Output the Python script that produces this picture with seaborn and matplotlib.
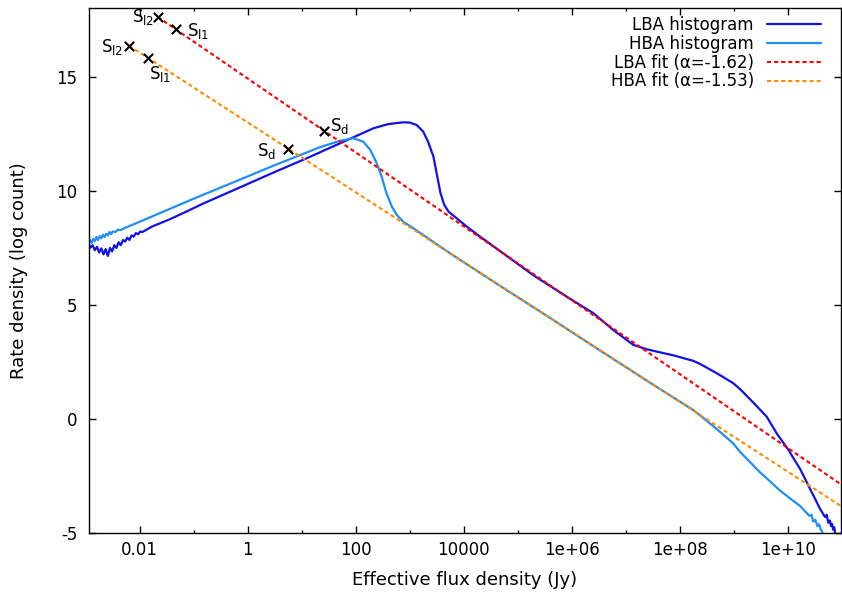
import numpy as np
import pandas as pd
import matplotlib
matplotlib.use("Agg")
import matplotlib.pyplot as plt
import seaborn as sns
from matplotlib.ticker import FixedLocator, FixedFormatter, NullFormatter

sns.set_theme(style="ticks")
plt.rcParams['font.family'] = ['DejaVu Sans']
plt.rcParams['mathtext.fontset'] = 'dejavusans'
plt.rcParams['axes.unicode_minus'] = False
plt.rcParams['text.color'] = 'black'
plt.rcParams['axes.labelcolor'] = 'black'

# --- data (x as log10 of flux density in Jy, y as log count) ---
lba_logS = [-2.95, -2.91, -2.87, -2.83, -2.79, -2.75, -2.71, -2.67, -2.63, -2.59,
            -2.55, -2.51, -2.47, -2.43, -2.39, -2.35, -2.31, -2.27, -2.23, -2.19,
            -2.15, -2.11, -2.07, -2.03, -1.99, -1.95,
            -1.77, -1.45, -1.14, -0.83, -0.14, 0.47, 1.09, 1.71, 2.33, 2.60, 2.88,
            3.00, 3.13, 3.25, 3.34, 3.44, 3.51, 3.57, 3.64, 3.72, 3.87, 4.06, 4.30,
            4.43, 5.29, 5.91, 6.40, 6.77, 7.14, 7.40, 7.64, 7.90, 8.25, 8.38, 8.69,
            8.99, 9.12, 9.35, 9.61, 9.80, 10.01, 10.23, 10.41, 10.60, 10.69,
            10.72, 10.75, 10.78, 10.80, 10.82, 10.84, 10.86, 10.88]
lba_rate = [7.70, 7.52, 7.62, 7.40, 7.55, 7.30, 7.48, 7.22, 7.45, 7.15,
            7.50, 7.35, 7.62, 7.50, 7.75, 7.62, 7.85, 7.78, 7.95, 7.85,
            8.05, 8.00, 8.15, 8.10, 8.22, 8.20,
            8.44, 8.75, 9.09, 9.44, 10.16, 10.80, 11.43, 12.09, 12.75, 12.93, 13.01,
            13.00, 12.89, 12.60, 12.16, 11.50, 10.63, 9.90, 9.39, 9.09, 8.80, 8.43, 8.00,
            7.78, 6.30, 5.36, 4.64, 3.90, 3.25, 3.05, 2.92, 2.78, 2.55, 2.41, 2.00,
            1.57, 1.30, 0.75, 0.10, -0.65, -1.35, -2.20, -3.05, -3.95, -4.30,
            -4.20, -4.55, -4.45, -4.70, -4.60, -4.85, -4.75, -5.05]

hba_logS = [-2.95, -2.92, -2.89, -2.86, -2.83, -2.80, -2.77, -2.74, -2.71, -2.68,
            -2.65, -2.62, -2.59, -2.56, -2.53, -2.50, -2.45, -2.40, -2.35, -2.30,
            -2.20, -2.00, -1.00, -0.14, 0.50, 1.00, 1.34, 1.71, 1.96, 2.14, 2.27,
            2.39, 2.48, 2.57, 2.67, 2.76, 2.88, 3.07, 3.75, 4.67, 5.60, 6.52, 7.45,
            8.25, 8.38, 8.69, 8.99, 9.12, 9.49, 9.61, 9.86, 10.23, 10.40, 10.44,
            10.47, 10.51, 10.55, 10.58, 10.61, 10.63, 10.65]
hba_rate = [7.70, 7.85, 7.72, 7.90, 7.80, 7.98, 7.85, 8.02, 7.92, 8.08,
            7.98, 8.12, 8.05, 8.20, 8.10, 8.22, 8.20, 8.30, 8.28, 8.35,
            8.45, 8.65, 9.66, 10.50, 11.13, 11.60, 11.92, 12.20, 12.31, 12.16, 11.80,
            11.21, 10.63, 9.90, 9.31, 8.95, 8.65, 8.36, 7.26, 5.84, 4.43, 3.01, 1.59,
            0.39, 0.15, -0.45, -1.07, -1.45, -2.35, -2.60, -3.15, -3.82, -4.25, -4.20,
            -4.50, -4.42, -4.70, -4.62, -4.85, -4.90, -5.05]

lba_fit_logS = [-1.667, 10.98]
lba_fit_rate = [17.63, -2.86]
hba_fit_logS = [-2.198, 10.98]
hba_fit_rate = [16.37, -3.81]

# break points (S_l2, S_l1, S_d) on each fit
lba_pts_logS = [-1.667, -1.328, 1.419]
lba_pts_rate = [17.63, 17.08, 12.63]
hba_pts_logS = [-2.198, -1.852, 0.752]
hba_pts_rate = [16.37, 15.84, 11.85]
pt_names = [r'S$_{\mathregular{l2}}$', r'S$_{\mathregular{l1}}$', r'S$_{\mathregular{d}}$']

xtick_pos = [1e-2, 1e0, 1e2, 1e4, 1e6, 1e8, 1e10]
xtick_labels = ['0.01', '1', '100', '10000', '1e+06', '1e+08', '1e+10']
xminor_pos = [1e-1, 1e1, 1e3, 1e5, 1e7, 1e9]

legend_labels = ['LBA histogram', 'HBA histogram',
                 'LBA fit (\u03b1=-1.62)', 'HBA fit (\u03b1=-1.53)']
colors = ['#1212e6', '#1e8ff5', '#ff0000', '#ff8c00']


def frame(logS, rate):
    return pd.DataFrame({'flux': 10.0 ** np.asarray(logS), 'rate': rate})


fig = plt.figure(figsize=(8.42, 5.99), dpi=100)
ax = fig.add_axes([88.7 / 842, 1 - 533 / 599, (840.7 - 88.7) / 842, (533 - 7.6) / 599])

sns.lineplot(data=frame(lba_logS, lba_rate), x='flux', y='rate', estimator=None,
             sort=False, color=colors[0], lw=1.6, ax=ax)
sns.lineplot(data=frame(hba_logS, hba_rate), x='flux', y='rate', estimator=None,
             sort=False, color=colors[1], lw=1.6, ax=ax)
sns.lineplot(data=frame(lba_fit_logS, lba_fit_rate), x='flux', y='rate', estimator=None,
             sort=False, color=colors[2], lw=1.5, linestyle=(0, (2.0, 1.4)), ax=ax)
sns.lineplot(data=frame(hba_fit_logS, hba_fit_rate), x='flux', y='rate', estimator=None,
             sort=False, color=colors[3], lw=1.5, linestyle=(0, (2.0, 1.4)), ax=ax)
handles = list(ax.lines[:4])

pts = pd.concat([frame(lba_pts_logS, lba_pts_rate), frame(hba_pts_logS, hba_pts_rate)])
sns.scatterplot(data=pts, x='flux', y='rate', marker='x', color='black', s=45,
                linewidth=1.5, zorder=5, ax=ax)

# label offsets in pixels (text anchor relative to the cross)
lba_offsets = [(-3, -5, 'right'), (11, -7, 'left'), (6, 0, 'left')]
hba_offsets = [(-6, -6, 'right'), (1, -21, 'left'), (-12, -7, 'right')]
for logS, rate, offs in [(lba_pts_logS, lba_pts_rate, lba_offsets),
                         (hba_pts_logS, hba_pts_rate, hba_offsets)]:
    for name, lx, ly, (dx, dy, ha) in zip(pt_names, logS, rate, offs):
        ax.annotate(name, (10.0 ** lx, ly), xytext=(dx, dy), textcoords='offset pixels',
                    ha=ha, va='baseline', fontsize=12, color='black')

ax.set_xscale('log')
ax.set_xlim(10 ** -2.944, 10 ** 10.98)
ax.set_ylim(-5, 18.04)
ax.xaxis.set_major_locator(FixedLocator(xtick_pos))
ax.xaxis.set_major_formatter(FixedFormatter(xtick_labels))
ax.xaxis.set_minor_locator(FixedLocator(xminor_pos))
ax.xaxis.set_minor_formatter(NullFormatter())
ax.set_yticks([-5, 0, 5, 10, 15])
ax.tick_params(which='both', direction='in', top=True, right=True, colors='black',
               labelsize=12, width=1)
ax.tick_params(which='major', length=5)
ax.tick_params(axis='x', which='major', pad=6)
ax.tick_params(axis='y', which='major', pad=8)
ax.tick_params(which='minor', length=2.5)
for sp in ax.spines.values():
    sp.set_color('black')
    sp.set_linewidth(1.0)

ax.set_xlabel('Effective flux density (Jy)', fontsize=13, color='black')
ax.set_ylabel('Rate density (log count)', fontsize=13, color='black')
ax.xaxis.set_label_coords(0.5, -0.072)
ax.yaxis.set_label_coords(-0.081, 0.5)

leg = ax.legend(handles, legend_labels, loc='upper right',
                bbox_to_anchor=(821 / 842, 1 - 16 / 599), bbox_transform=fig.transFigure,
                frameon=False, markerfirst=False, fontsize=12, handlelength=3.25,
                handletextpad=0.78, labelspacing=0.05, borderpad=0, borderaxespad=0)
for t in leg.get_texts():
    t.set_color('black')

fig.savefig('out.png', dpi=100)
